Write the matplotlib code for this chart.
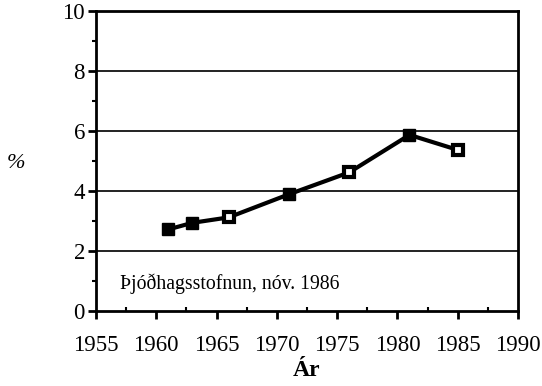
import numpy as np
import matplotlib
matplotlib.use("Agg")
import matplotlib.pyplot as plt
from matplotlib.ticker import MultipleLocator

plt.rcParams['font.family'] = ['Liberation Serif', 'DejaVu Serif']

# hlutfall eftir árum
years = [1961, 1963, 1966, 1971, 1976, 1981, 1985]
pct = [2.72, 2.94, 3.12, 3.89, 4.62, 5.87, 5.37]
filled = [True, True, False, True, False, True, False]

fig = plt.figure(figsize=(5.42, 3.86), dpi=100)
ax = fig.add_axes([96/542, 1 - 311/386, 422/542, 300/386])

ax.set_xlim(1955, 1990)
ax.set_ylim(0, 10)

for yv in [2, 4, 6, 8]:
    ax.axhline(yv, color='#222222', lw=1.4, zorder=1)

ax.plot(years, pct, color='black', lw=3, zorder=2)
for x, y, f in zip(years, pct, filled):
    if f:
        ax.plot(x, y, marker='s', ms=8, color='black', zorder=3)
    else:
        ax.plot(x, y, marker='s', ms=7, mfc='white', mec='black', mew=3, zorder=3)

ax.xaxis.set_major_locator(MultipleLocator(5))
ax.xaxis.set_minor_locator(MultipleLocator(2.5))
ax.yaxis.set_major_locator(MultipleLocator(2))
ax.yaxis.set_minor_locator(MultipleLocator(1))
ax.tick_params(which='major', direction='out', length=6, width=2, labelsize=16.5)
ax.tick_params(axis='x', which='minor', direction='in', length=3, width=1.5)
ax.tick_params(axis='y', which='minor', direction='out', length=3, width=1.5)
ax.tick_params(axis='x', pad=11)
ax.tick_params(axis='y', pad=2)

for s in ax.spines.values():
    s.set_linewidth(2)

ax.text(1957.0, 0.75, 'Þjóðhagsstofnun, nóv. 1986', fontsize=14.2)
ax.set_xlabel('Ár', fontsize=17, fontweight='bold', labelpad=3)
fig.text(16/542, 1 - 164/386, '%', fontsize=16, style='italic', ha='center', va='center')

fig.savefig('out.png', dpi=100)
